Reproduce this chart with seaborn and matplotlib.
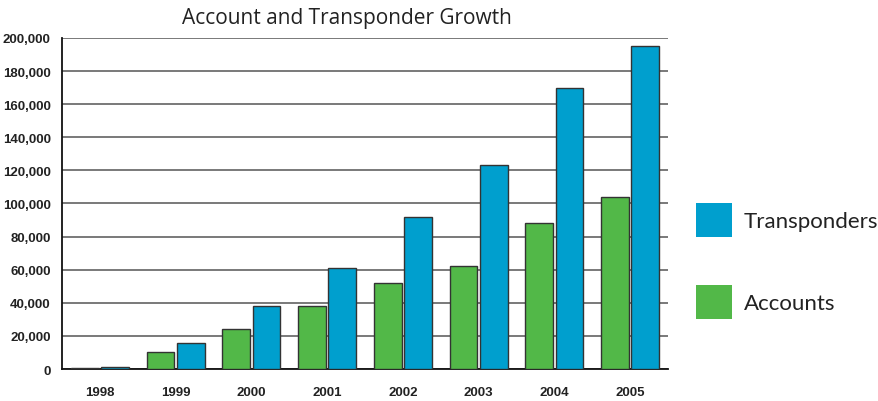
import pandas as pd
import seaborn as sns
import matplotlib.pyplot as plt
from matplotlib.patches import Patch

years = ['1998', '1999', '2000', '2001', '2002', '2003', '2004', '2005']
accounts = [800, 10000, 24000, 38000, 52000, 62000, 88000, 104000]
transponders = [1000, 16000, 38000, 61000, 92000, 123000, 170000, 195000]
series = ['Accounts', 'Transponders']
colors = ['#52b848', '#009fce']
y_ticks = [0, 20000, 40000, 60000, 80000, 100000, 120000, 140000, 160000, 180000, 200000]

df = pd.DataFrame({'Year': years, 'Accounts': accounts, 'Transponders': transponders})
long_df = df.melt(id_vars='Year', var_name='Series', value_name='Count')

sns.set_style('white')
plt.rcParams['font.family'] = ['Open Sans', 'DejaVu Sans']

fig = plt.figure(figsize=(8.79, 4.02), dpi=100)
ax = fig.add_axes([0.0705, 0.0796, 0.6895, 0.8234])

sns.barplot(data=long_df, x='Year', y='Count', hue='Series', hue_order=series,
            palette=colors, saturation=1, width=0.8, gap=0.08,
            edgecolor='#333333', linewidth=1, legend=False, ax=ax, zorder=3)

ax.set_ylim(0, 200000)
ax.set_xlim(-0.5, 7.5)
ax.set_yticks(y_ticks)
ax.set_yticklabels([f'{v:,}' for v in y_ticks], family='Liberation Sans',
                   fontweight='bold', fontsize=9.5, color='#222222')
ax.set_xticks(range(len(years)))
ax.set_xticklabels(years, family='Liberation Sans', fontweight='bold',
                   fontsize=9.5, color='#222222')
ax.tick_params(axis='both', length=0)
ax.tick_params(axis='x', pad=12)
ax.tick_params(axis='y', pad=8)
ax.set_xlabel('')
ax.set_ylabel('')

ax.yaxis.grid(True, color='#555555', linewidth=1.1, zorder=0)
ax.set_axisbelow(True)
for s in ['top', 'right']:
    ax.spines[s].set_visible(False)
for s in ['left', 'bottom']:
    ax.spines[s].set_color('#111111')
    ax.spines[s].set_linewidth(1.3)

fig.text(0.395, 0.955, 'Account and Transponder Growth', ha='center', va='center',
         fontsize=15, color='#222222')

handles = [Patch(facecolor=colors[1], edgecolor='none', label='Transponders'),
           Patch(facecolor=colors[0], edgecolor='none', label='Accounts')]
fig.legend(handles=handles, loc='upper left', bbox_to_anchor=(0.792, 0.492),
           frameon=False, prop={'family': 'Lato', 'size': 16},
           handlelength=1.6, handleheight=1.98, labelspacing=2.15,
           handletextpad=0.55, borderpad=0, borderaxespad=0, labelcolor='#222222')

fig.savefig('out.png', dpi=100)
